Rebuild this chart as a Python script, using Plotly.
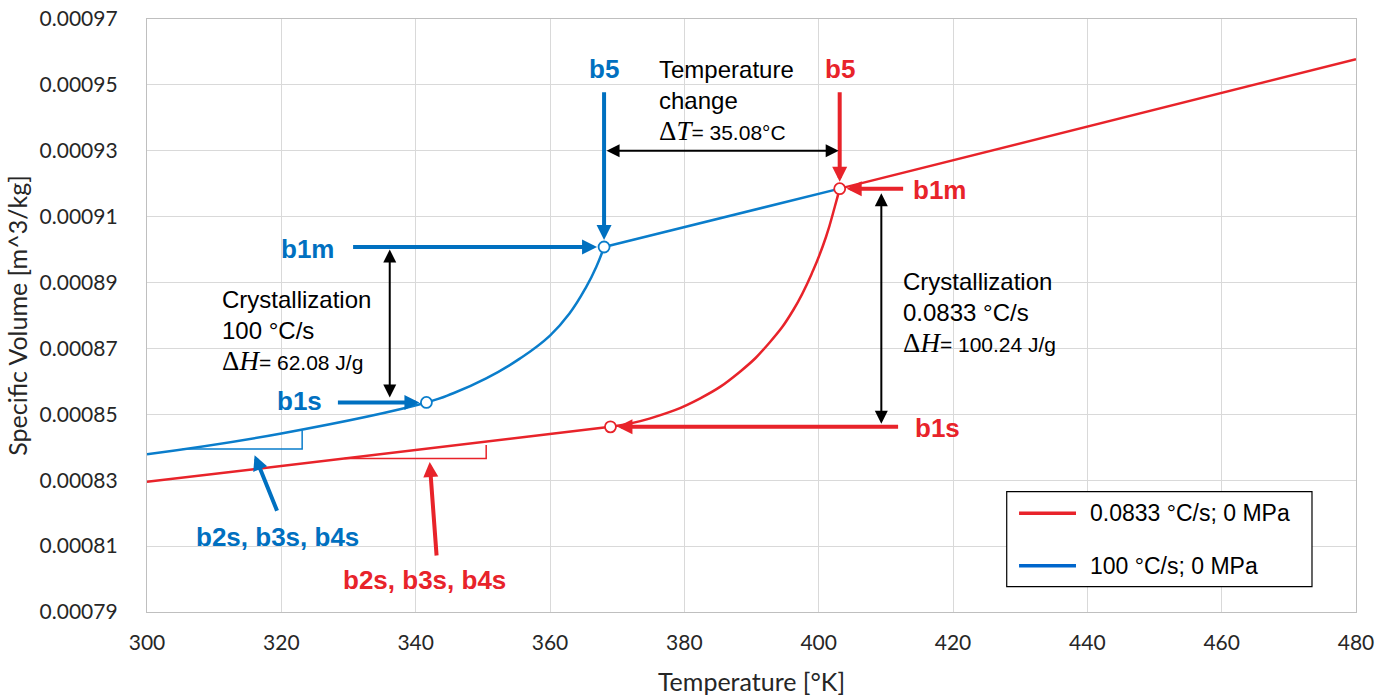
import plotly.graph_objects as go

# Specific volume vs temperature for two cooling rates (0 MPa)
red_T = [300.0, 369.0, 374.8, 382.3, 388.2, 392.7, 396.2, 399.2, 401.1, 402.4, 403.13, 480.0]
red_V = [0.0008295, 0.0008462, 0.0008487, 0.0008548, 0.0008628, 0.0008718,
         0.0008816, 0.0008938, 0.0009039, 0.0009130, 0.0009185, 0.0009578]

blue_T = [300.0, 320.0, 341.6, 345.6, 350.5, 355.5, 360.0, 362.9, 365.4, 366.9, 368.05, 403.13]
blue_V = [0.0008379, 0.0008442, 0.0008536, 0.0008564, 0.0008609, 0.0008669,
          0.0008739, 0.0008806, 0.0008887, 0.0008948, 0.0009008, 0.0009185]

# index of the b1s / b1m points in each series
RED_B1S, RED_B1M = 1, 10
BLUE_B1S, BLUE_B1M = 2, 10

# slope triangles marking the solid-state tangent (b2s, b3s, b4s)
blue_tri_T = [305.3, 323.1, 323.1]
blue_tri_V = [0.0008395, 0.0008395, 0.0008452]
red_tri_T = [329.4, 350.5, 350.5]
red_tri_V = [0.0008366, 0.0008366, 0.0008407]

series_names = ["0.0833 °C/s; 0 MPa", "100 °C/s; 0 MPa"]
delta_T_text = "35.08°C"
dH_blue_text = "62.08 J/g"
dH_red_text = "100.24 J/g"

RED = "#E8232A"
BLUE_LINE = "#0A7DCB"
BLUE = "#0070C0"
LEGEND_BLUE = "#0066CC"
TXT = "Liberation Sans"

fig = go.Figure()


def seg(T, V, i0, i1, color, shape):
    fig.add_trace(go.Scatter(
        x=T[i0:i1 + 1], y=V[i0:i1 + 1], mode="lines",
        line=dict(color=color, width=2.5, shape=shape, smoothing=1.3),
        showlegend=False, hoverinfo="skip"))


# red curve: glassy line, crystallization transition, melt line
seg(red_T, red_V, 0, RED_B1S, RED, "linear")
seg(red_T, red_V, RED_B1S, RED_B1M, RED, "spline")
seg(red_T, red_V, RED_B1M, len(red_T) - 1, RED, "linear")
# blue curve
seg(blue_T, blue_V, 0, BLUE_B1M, BLUE_LINE, "spline")
seg(blue_T, blue_V, BLUE_B1M, len(blue_T) - 1, BLUE_LINE, "linear")

# slope triangles
fig.add_trace(go.Scatter(x=blue_tri_T, y=blue_tri_V, mode="lines",
                         line=dict(color=BLUE_LINE, width=1.5),
                         showlegend=False, hoverinfo="skip"))
fig.add_trace(go.Scatter(x=red_tri_T, y=red_tri_V, mode="lines",
                         line=dict(color=RED, width=1.5),
                         showlegend=False, hoverinfo="skip"))

# open circles at b1s / b1m
fig.add_trace(go.Scatter(
    x=[blue_T[BLUE_B1S], blue_T[BLUE_B1M]], y=[blue_V[BLUE_B1S], blue_V[BLUE_B1M]],
    mode="markers", marker=dict(size=11, color="white", line=dict(color=BLUE_LINE, width=1.8)),
    showlegend=False, hoverinfo="skip"))
fig.add_trace(go.Scatter(
    x=[red_T[RED_B1S], red_T[RED_B1M]], y=[red_V[RED_B1S], red_V[RED_B1M]],
    mode="markers", marker=dict(size=11, color="white", line=dict(color=RED, width=1.8)),
    showlegend=False, hoverinfo="skip"))


def label(x, y, text, color, size=26, bold=True, xanchor="center", yanchor="middle"):
    fig.add_annotation(x=x, y=y, xref="x", yref="y", showarrow=False,
                       text=f"<b>{text}</b>" if bold else text,
                       font=dict(family=TXT, size=size, color=color),
                       xanchor=xanchor, yanchor=yanchor, align="left")


def arrow(x, y, ax, ay, color, width, size, both=False, standoff=0, startstandoff=0):
    fig.add_annotation(x=x, y=y, ax=ax, ay=ay, xref="x", yref="y", axref="x", ayref="y",
                       text="", showarrow=True, arrowhead=2, arrowsize=size,
                       arrowwidth=width, arrowcolor=color,
                       arrowside="end+start" if both else "end",
                       startarrowhead=2, startarrowsize=size,
                       standoff=standoff, startstandoff=startstandoff)


def delta(sym, value):
    return ('<span style="font-family:Liberation Serif;font-size:27px">Δ<i>' + sym + '</i></span>'
            f'<span style="font-size:21px">= {value}</span>')


# b5 markers
label(blue_T[BLUE_B1M], 0.0009547, "b5", BLUE)
arrow(blue_T[BLUE_B1M], blue_V[BLUE_B1M], blue_T[BLUE_B1M], 0.0009482, BLUE, 4, 0.75, standoff=7)
label(red_T[RED_B1M], 0.0009547, "b5", RED)
arrow(red_T[RED_B1M], red_V[RED_B1M], red_T[RED_B1M], 0.0009482, RED, 4, 0.75, standoff=7)

# temperature change between the two b5 points
label(375.86, 0.0009595, "Temperature<br>change<br>" + delta("T", delta_T_text), "black",
      size=24, bold=False, xanchor="left", yanchor="top")
arrow(red_T[RED_B1M], 0.00093, blue_T[BLUE_B1M], 0.00093, "black", 2, 1.3, both=True,
      standoff=1, startstandoff=1)

# blue b1m / b1s
label(323.9, 0.0009003, "b1m", BLUE)
arrow(blue_T[BLUE_B1M], blue_V[BLUE_B1M], 330.46, blue_V[BLUE_B1M], BLUE, 4, 0.75, standoff=7)
label(322.7, 0.0008540, "b1s", BLUE)
arrow(blue_T[BLUE_B1S], blue_V[BLUE_B1S], 328.2, blue_V[BLUE_B1S], BLUE, 4, 0.75, standoff=7)
arrow(336.14, blue_V[BLUE_B1S], 336.14, blue_V[BLUE_B1M], "black", 2, 1.3, both=True,
      standoff=5, startstandoff=1)
label(310.85, 0.0008897, "Crystallization<br>100 °C/s<br>" + delta("H", dH_blue_text), "black",
      size=24, bold=False, xanchor="left", yanchor="top")

# red b1m / b1s
label(418.0, 0.0009180, "b1m", RED)
arrow(red_T[RED_B1M], red_V[RED_B1M], 412.8, red_V[RED_B1M], RED, 4, 0.75, standoff=7)
label(417.7, 0.0008458, "b1s", RED)
arrow(red_T[RED_B1S], red_V[RED_B1S], 412.05, red_V[RED_B1S], RED, 4, 0.75, standoff=7)
arrow(409.33, red_V[RED_B1S], 409.33, red_V[RED_B1M], "black", 2, 1.3, both=True,
      standoff=3, startstandoff=3)
label(412.3, 0.0008950, "Crystallization<br>0.0833 °C/s<br>" + delta("H", dH_red_text), "black",
      size=24, bold=False, xanchor="left", yanchor="top")

# b2s, b3s, b4s callouts
label(319.4, 0.0008127, "b2s, b3s, b4s", BLUE)
arrow(316.02, 0.0008376, 319.45, 0.0008203, BLUE, 4, 0.75)
label(341.3, 0.0007997, "b2s, b3s, b4s", RED)
arrow(342.09, 0.0008355, 343.13, 0.0008067, RED, 4, 0.75)

# legend box
fig.add_shape(type="rect", xref="paper", yref="paper", x0=0.7111, x1=0.9636, y0=0.0427, y1=0.2029,
              line=dict(color="black", width=1.2), fillcolor="white", layer="above")
for yp, color, name in [(0.1664, RED, series_names[0]), (0.0781, LEGEND_BLUE, series_names[1])]:
    fig.add_shape(type="line", xref="paper", yref="paper", x0=0.7213, x1=0.7684, y0=yp, y1=yp,
                  line=dict(color=color, width=3.5), layer="above")
    fig.add_annotation(x=0.7783, y=yp, xref="paper", yref="paper", showarrow=False, text=name,
                       font=dict(family=TXT, size=23, color="black"), xanchor="left", yanchor="middle")

axis_font = dict(family="Lato", size=21, color="#262626")
title_font = dict(family="Lato", size=25, color="#262626")

fig.update_layout(
    width=1396, height=700,
    margin=dict(l=147, r=40, t=19, b=88),
    plot_bgcolor="white", paper_bgcolor="white",
    showlegend=False,
    xaxis=dict(range=[300, 480], tick0=300, dtick=20, showgrid=True, gridcolor="#D9D9D9",
               gridwidth=1.3, zeroline=False, showline=True, mirror=True, linecolor="#BFBFBF",
               linewidth=1.3, ticks="", tickfont=axis_font, ticklabelstandoff=12,
               automargin=False,
               title=dict(text="Temperature [°K]", font=title_font, standoff=20)),
    yaxis=dict(range=[0.00079, 0.00097], tick0=0.00079, dtick=0.00002, tickformat=".5f",
               showgrid=True, gridcolor="#D9D9D9", gridwidth=1.3, zeroline=False,
               showline=True, mirror=True, linecolor="#BFBFBF", linewidth=1.3, ticks="",
               tickfont=axis_font, ticklabelstandoff=24, automargin=False,
               title=dict(text="Specific Volume [m^3/kg]", font=title_font, standoff=4)),
)

fig.write_html("out.html")
